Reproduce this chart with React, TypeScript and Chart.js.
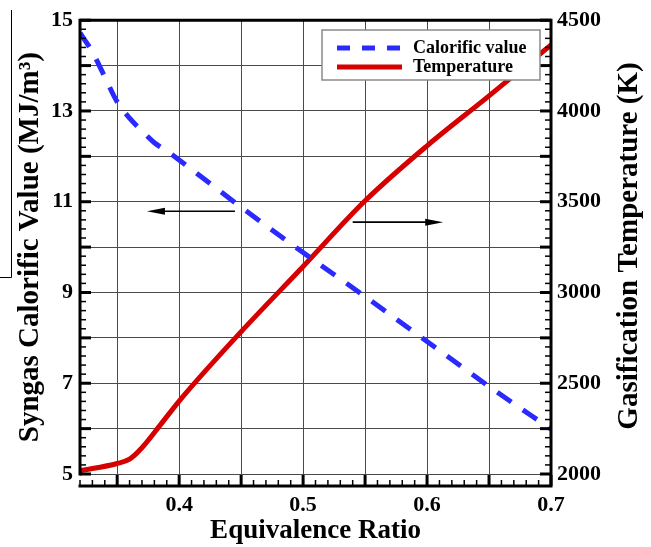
import React, { useEffect, useRef } from 'react';
import { Chart, registerables } from 'chart.js';

Chart.register(...registerables);

// ---- data ----
const X_CAL = [0.32, 0.33, 0.34, 0.35, 0.36, 0.37, 0.38, 0.39, 0.40, 0.45, 0.50, 0.55, 0.60, 0.65, 0.70];
const CALORIFIC = [14.72, 14.3, 13.75, 13.2, 12.84, 12.56, 12.3, 12.12, 11.92, 10.88, 9.88, 8.91, 7.92, 6.93, 5.99];

const X_TEMP = [0.32, 0.35, 0.36, 0.37, 0.385, 0.40, 0.45, 0.50, 0.55, 0.60, 0.65, 0.70];
const TEMPERATURE = [2018, 2058, 2082, 2145, 2272, 2402, 2784, 3143, 3505, 3808, 4083, 4364];

const X_GRID_TICKS = [0.35, 0.4, 0.45, 0.5, 0.55, 0.6, 0.65, 0.7];
const X_TICK_LABELS = [0.4, 0.5, 0.6, 0.7];
const LEFT_GRID_TICKS = [5, 6, 7, 8, 9, 10, 11, 12, 13, 14, 15];
const LEFT_TICK_LABELS = [5, 7, 9, 11, 13, 15];
const RIGHT_TICK_LABELS = [2000, 2500, 3000, 3500, 4000, 4500];

// arrows (data units of x / left axis)
const ARROW_X_FROM = [0.445, 0.540];
const ARROW_X_TO = [0.374, 0.613];
const ARROW_Y = [10.79, 10.55];

const SERIES_LABELS = ['Calorific value', 'Temperature'];
const TITLE_X = 'Equivalence Ratio';
const TITLE_LEFT = 'Syngas Calorific Value (MJ/m\u00B3)';
const TITLE_RIGHT = 'Gasification Temperature (K)';

const FONT = "'Times New Roman', 'Liberation Serif', Times, serif";
const BLUE = '#2a2aff';
const RED = '#d60000';
const GRID = '#4a4a4a';

const decorPlugin = {
  id: 'decor',
  afterDatasetsDraw(chart: any) {
    const { ctx, chartArea: ca, scales } = chart;
    const xs = scales.x;
    const yl = scales.y;
    const yr = scales.y1;
    const axisY = ca.bottom + 12;
    ctx.save();

    // arrows
    ctx.strokeStyle = '#000';
    ctx.fillStyle = '#000';
    for (let i = 0; i < ARROW_Y.length; i++) {
      const x0 = xs.getPixelForValue(ARROW_X_FROM[i]);
      const x1 = xs.getPixelForValue(ARROW_X_TO[i]);
      const y = yl.getPixelForValue(ARROW_Y[i]);
      const dir = Math.sign(x1 - x0);
      ctx.lineWidth = 1.6;
      ctx.beginPath();
      ctx.moveTo(x0, y);
      ctx.lineTo(x1 - dir * 12, y);
      ctx.stroke();
      ctx.beginPath();
      ctx.moveTo(x1, y);
      ctx.lineTo(x1 - dir * 18, y - 3.5);
      ctx.lineTo(x1 - dir * 18, y + 3.5);
      ctx.closePath();
      ctx.fill();
    }

    // frame
    ctx.strokeStyle = '#000';
    ctx.lineWidth = 3;
    ctx.lineCap = 'square';
    ctx.beginPath();
    ctx.moveTo(ca.left, ca.bottom);
    ctx.lineTo(ca.left, ca.top);
    ctx.lineTo(ca.right, ca.top);
    ctx.lineTo(ca.right, axisY);
    ctx.lineTo(ca.left, axisY);
    ctx.stroke();
    ctx.lineCap = 'butt';

    // left axis ticks
    for (let v = 5; v <= 15.0001; v += 0.2) {
      const major = Math.abs(v - Math.round(v)) < 1e-6;
      const y = yl.getPixelForValue(v);
      ctx.lineWidth = major ? 3 : 1.5;
      ctx.beginPath();
      ctx.moveTo(ca.left, y);
      ctx.lineTo(ca.left + (major ? 11 : 6), y);
      ctx.stroke();
    }
    // right axis ticks
    for (let v = 2000; v <= 4500; v += 50) {
      const major = v % 250 === 0;
      const y = yr.getPixelForValue(v);
      ctx.lineWidth = major ? 3 : 1.5;
      ctx.beginPath();
      ctx.moveTo(ca.right, y);
      ctx.lineTo(ca.right - (major ? 11 : 6), y);
      ctx.stroke();
    }
    // bottom axis ticks
    for (let k = 32; k <= 70; k++) {
      const v = k / 100;
      const major = k % 5 === 0;
      const x = xs.getPixelForValue(v);
      ctx.lineWidth = major ? 3 : 1.5;
      ctx.beginPath();
      ctx.moveTo(x, axisY);
      ctx.lineTo(x, axisY - (major ? 11 : 6));
      ctx.stroke();
    }

    // legend
    const lx = 322, ly = 30, lw = 218, lh = 50;
    ctx.fillStyle = '#fff';
    ctx.fillRect(lx, ly, lw, lh);
    ctx.strokeStyle = '#8a8a8a';
    ctx.lineWidth = 1.5;
    ctx.strokeRect(lx, ly, lw, lh);
    const rows = [48, 67];
    chart.data.datasets.forEach((ds: any, i: number) => {
      const y = rows[i];
      ctx.strokeStyle = ds.borderColor;
      ctx.lineWidth = 5;
      ctx.setLineDash(ds.borderDash && ds.borderDash.length ? [13, 12] : []);
      ctx.beginPath();
      ctx.moveTo(337, y);
      ctx.lineTo(402, y);
      ctx.stroke();
      ctx.setLineDash([]);
      ctx.fillStyle = '#000';
      ctx.font = `bold 18px ${FONT}`;
      ctx.textAlign = 'left';
      ctx.textBaseline = 'middle';
      ctx.fillText(ds.label, 413, y);
    });

    // right title (reads bottom to top)
    ctx.save();
    ctx.translate(630, 246);
    ctx.rotate(-Math.PI / 2);
    ctx.fillStyle = '#000';
    ctx.font = `bold 29px ${FONT}`;
    ctx.textAlign = 'center';
    ctx.textBaseline = 'middle';
    ctx.fillText(TITLE_RIGHT, 0, 0);
    ctx.restore();

    // stray rule at left edge of the figure
    ctx.strokeStyle = '#000';
    ctx.lineWidth = 1;
    ctx.beginPath();
    ctx.moveTo(11.5, 10);
    ctx.lineTo(11.5, 277.5);
    ctx.lineTo(0, 277.5);
    ctx.stroke();

    ctx.restore();
  },
};

const round2 = (v: number) => Math.round(v * 100) / 100;

export default function App() {
  const ref = useRef<HTMLCanvasElement>(null);
  useEffect(() => {
    const tickFont = { family: FONT, size: 22, weight: 'bold' as const };
    const chart = new Chart(ref.current!, {
      type: 'line',
      data: {
        datasets: [
          {
            label: SERIES_LABELS[0],
            data: X_CAL.map((x, i) => ({ x, y: CALORIFIC[i] })),
            yAxisID: 'y',
            borderColor: BLUE,
            borderWidth: 5,
            borderDash: [17, 14],
            pointRadius: 0,
            cubicInterpolationMode: 'monotone',
          },
          {
            label: SERIES_LABELS[1],
            data: X_TEMP.map((x, i) => ({ x, y: TEMPERATURE[i] })),
            yAxisID: 'y1',
            borderColor: RED,
            borderWidth: 5,
            pointRadius: 0,
            cubicInterpolationMode: 'monotone',
          },
        ],
      },
      options: {
        animation: false,
        responsive: false,
        layout: { padding: { top: 20, left: 0, right: 0, bottom: 0 } },
        plugins: { legend: { display: false }, tooltip: { enabled: false } },
        scales: {
          x: {
            type: 'linear',
            position: 'bottom',
            min: 0.32,
            max: 0.7,
            afterBuildTicks: (s: any) => {
              s.ticks = X_GRID_TICKS.map((v) => ({ value: v }));
            },
            afterFit: (s: any) => {
              s.height = 73;
            },
            grid: { color: GRID, lineWidth: 1, drawTicks: false },
            border: { display: false },
            ticks: {
              padding: 18,
              color: '#000',
              font: tickFont,
              maxRotation: 0,
              autoSkip: false,
              callback: (v: any) => (X_TICK_LABELS.includes(round2(Number(v))) ? Number(v).toFixed(1) : ''),
            },
            title: {
              display: true,
              text: TITLE_X,
              color: '#000',
              font: { family: FONT, size: 27, weight: 'bold' },
              padding: { top: 0, bottom: 0 },
            },
          },
          y: {
            type: 'linear',
            position: 'left',
            min: 5,
            max: 15,
            afterBuildTicks: (s: any) => {
              s.ticks = LEFT_GRID_TICKS.map((v) => ({ value: v }));
            },
            afterFit: (s: any) => {
              s.width = 80;
            },
            grid: { color: GRID, lineWidth: 1, drawTicks: false },
            border: { display: false },
            ticks: {
              padding: 7,
              color: '#000',
              font: tickFont,
              autoSkip: false,
              callback: (v: any) => (LEFT_TICK_LABELS.includes(Number(v)) ? String(v) : ''),
            },
            title: {
              display: true,
              text: TITLE_LEFT,
              color: '#000',
              font: { family: FONT, size: 29, weight: 'bold' },
              padding: { top: 13, bottom: 0 },
            },
          },
          y1: {
            type: 'linear',
            position: 'right',
            min: 2000,
            max: 4500,
            afterBuildTicks: (s: any) => {
              s.ticks = RIGHT_TICK_LABELS.map((v) => ({ value: v }));
            },
            afterFit: (s: any) => {
              s.width = 100;
            },
            grid: { display: false, drawTicks: false },
            border: { display: false },
            ticks: {
              padding: 6,
              color: '#000',
              font: tickFont,
              autoSkip: false,
              callback: (v: any) => String(v),
            },
          },
        },
      },
      plugins: [decorPlugin],
    } as any);
    return () => chart.destroy();
  }, []);
  return (
    <div style={{ position: 'absolute', left: 0, top: 0, width: 651, height: 547, background: '#fff' }}>
      <canvas ref={ref} width={651} height={547} style={{ display: 'block', width: 651, height: 547 }} />
    </div>
  );
}
